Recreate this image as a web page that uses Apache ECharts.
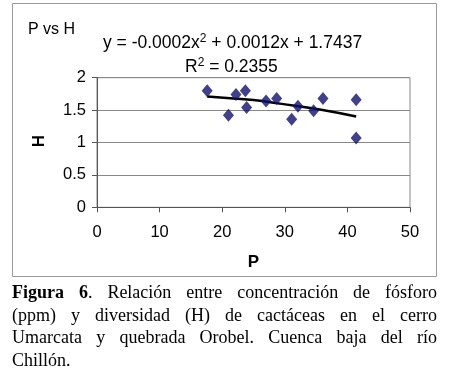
<!DOCTYPE html>
<html>
<head>
<meta charset="utf-8">
<script src="https://cdn.jsdelivr.net/npm/echarts@6/dist/echarts.min.js"></script>
<style>
    html, body {margin: 0; padding: 0; background: #fff;}
    #wrap {position: relative; width: 450px; height: 379px; overflow: hidden;}
    #chart {position: absolute; left: 0; top: 0; width: 450px; height: 379px;}
    #caption {
        position: absolute; left: 12px; top: 281px; width: 425px;
        font-family: "Liberation Serif", "DejaVu Serif", serif;
        font-size: 18px; line-height: 22.5px; color: #000;
    }
    #caption div {text-align: justify; text-align-last: justify; white-space: nowrap;}
    #caption div.last {text-align-last: left;}
</style>
</head>
<body>
<div id="wrap">
    <div id="chart"></div>
    <div id="caption">
        <div><b>Figura 6</b>. Relación entre concentración de fósforo</div>
        <div>(ppm) y diversidad (H) de cactáceas en el cerro</div>
        <div>Umarcata y quebrada Orobel. Cuenca baja del río</div>
        <div class="last">Chillón.</div>
    </div>
</div>
<script>
    // P (ppm) vs H
    const pValues = [17.6, 21.0, 22.2, 23.7, 23.9, 27.0, 28.7, 31.1, 32.1, 34.6, 36.1, 41.4, 41.4];
    const hValues = [1.80, 1.42, 1.74, 1.80, 1.54, 1.64, 1.68, 1.36, 1.56, 1.49, 1.68, 1.66, 1.07];

    // linea de tendencia
    const trendP = [17.6, 21.8, 25.0, 29.2, 35.6, 41.4];
    const trendH = [1.71, 1.68, 1.655, 1.60, 1.51, 1.40];

    const xTicks = [0, 10, 20, 30, 40, 50];
    const yTicks = [0, 0.5, 1, 1.5, 2];

    const chart = echarts.init(document.getElementById('chart'));
    const font = 'Liberation Sans, Arial, sans-serif';

    const option = {
        backgroundColor: '#fff',
        animation: false,
        grid: {left: 97, right: 40, top: 77.7, bottom: 171.7, show: true, borderColor: '#888', borderWidth: 1},
        graphic: [
            {type: 'rect', shape: {x: 12.5, y: 3.5, width: 424, height: 273}, style: {fill: 'none', stroke: '#999', lineWidth: 1}, z: -1},
            {type: 'text', left: 28, top: 22, style: {text: 'P vs H', font: '16px ' + font, fill: '#000'}},
            {type: 'text', left: 103, top: 33, style: {text: 'y = -0.0002x{s|2} + 0.0012x + 1.7437', font: '17.5px ' + font, fill: '#000',
                    rich: {s: {fontSize: 12, verticalAlign: 'top', padding: [0, 0, 9, 0], fontFamily: font}}}},
            {type: 'text', left: 185, top: 57, style: {text: 'R{s|2} = 0.2355', font: '17.5px ' + font, fill: '#000',
                    rich: {s: {fontSize: 12, verticalAlign: 'top', padding: [0, 0, 9, 0], fontFamily: font}}}},
            {type: 'text', left: 31, top: 135, rotation: Math.PI / 2, style: {text: 'H', font: 'bold 17px ' + font, fill: '#000'}}
        ],
        xAxis: {
            type: 'value', min: 0, max: 50, interval: 10,
            name: 'P', nameLocation: 'middle', nameGap: 47,
            nameTextStyle: {fontFamily: font, fontSize: 17, fontWeight: 'bold', color: '#000'},
            axisLine: {show: true, lineStyle: {color: '#555'}},
            axisTick: {show: true, inside: false, length: 5, lineStyle: {color: '#555'}},
            axisLabel: {fontFamily: font, fontSize: 16.5, color: '#000', margin: 17,
                formatter: v => xTicks.includes(v) ? String(v) : ''},
            splitLine: {show: false}
        },
        yAxis: {
            type: 'value', min: 0, max: 2, interval: 0.5,
            axisLine: {show: true, lineStyle: {color: '#555'}},
            axisTick: {show: true, length: 5, lineStyle: {color: '#555'}},
            axisLabel: {fontFamily: font, fontSize: 16.5, color: '#000', margin: 11,
                formatter: v => yTicks.includes(v) ? String(v) : ''},
            splitLine: {show: true, lineStyle: {color: '#888', width: 1}}
        },
        series: [
            {
                type: 'line', name: 'tendencia',
                data: trendP.map((p, i) => [p, trendH[i]]),
                smooth: true, showSymbol: false, symbol: 'none',
                lineStyle: {color: '#000', width: 2.5}, z: 2
            },
            {
                type: 'scatter', name: 'P vs H',
                data: pValues.map((p, i) => [p, hValues[i]]),
                symbol: 'diamond', symbolSize: [11, 13],
                itemStyle: {color: '#10106e'}, z: 3
            }
        ]
    };
    chart.setOption(option);
</script>
</body>
</html>
